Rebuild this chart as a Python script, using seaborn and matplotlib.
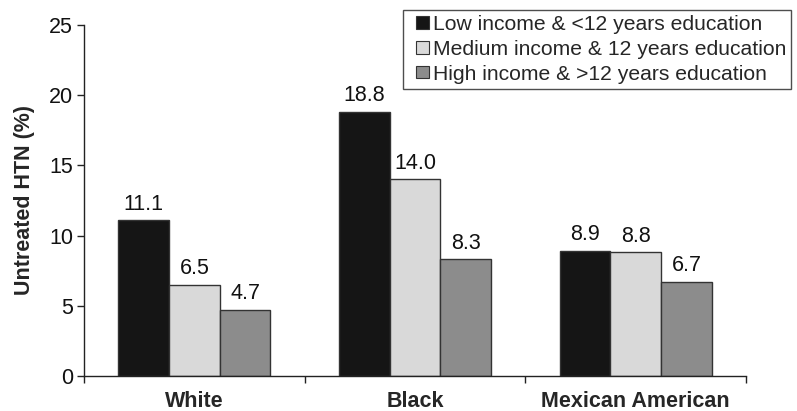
import matplotlib
matplotlib.use("Agg")
import matplotlib.pyplot as plt
import seaborn as sns
import pandas as pd
from matplotlib.patches import Patch, Rectangle
from matplotlib.legend_handler import HandlerPatch
from matplotlib.ticker import FixedLocator, NullFormatter

groups = ["White", "Black", "Mexican American"]
series = [
    "Low income & <12 years education",
    "Medium income & 12 years education",
    "High income & >12 years education",
]
low_vals = [11.1, 18.8, 8.9]
med_vals = [6.5, 14.0, 8.8]
high_vals = [4.7, 8.3, 6.7]
colors = ["#151515", "#d9d9d9", "#8c8c8c"]

rows = []
for s, vals in zip(series, [low_vals, med_vals, high_vals]):
    for g, v in zip(groups, vals):
        rows.append({"group": g, "series": s, "value": v})
df = pd.DataFrame(rows)

sns.set_theme(style="ticks")
plt.rcParams["font.family"] = ["Liberation Sans", "DejaVu Sans"]

FS = 15.5
LEG_FS = 15.2


class SquareHandler(HandlerPatch):
    """Small square swatch sitting at the right end of the handle box."""

    def create_artists(self, legend, orig_handle, xdescent, ydescent,
                       width, height, fontsize, trans):
        side = 0.6 * fontsize
        x0 = width - side - xdescent
        y0 = (height - side) / 2 - ydescent
        r = Rectangle((x0, y0), side, side,
                      facecolor=orig_handle.get_facecolor(),
                      edgecolor=orig_handle.get_edgecolor(),
                      linewidth=orig_handle.get_linewidth())
        r.set_transform(trans)
        return [r]


fig = plt.figure(figsize=(7.97, 4.11), dpi=100)
ax = fig.add_axes([0.1054, 0.0852, 0.8306, 0.854])

sns.barplot(data=df, x="group", y="value", hue="series", order=groups,
            hue_order=series, palette=colors, width=0.69, ax=ax,
            edgecolor="#333333", linewidth=1.0, saturation=1, legend=False)

for container in ax.containers:
    ax.bar_label(container, fmt="%.1f", padding=4, fontsize=FS, color="#111111")

ax.set_ylim(0, 25)
ax.set_xlim(-0.5, len(groups) - 0.5)
ax.set_yticks([0, 5, 10, 15, 20, 25])
ax.tick_params(axis="y", labelsize=FS, length=5, width=1, pad=3,
               color="#222222", labelcolor="#111111")
ax.tick_params(axis="x", which="major", length=0, labelsize=FS, pad=11)
ax.xaxis.set_minor_locator(FixedLocator([-0.5, 0.5, 1.5, 2.5]))
ax.xaxis.set_minor_formatter(NullFormatter())
ax.tick_params(axis="x", which="minor", length=5, width=1, color="#222222")
for lbl in ax.get_xticklabels():
    lbl.set_fontweight("bold")
ax.set_xlabel("")
ax.set_ylabel("Untreated HTN (%)", fontsize=FS, fontweight="bold", labelpad=10)
for side in ["top", "right"]:
    ax.spines[side].set_visible(False)
for side in ["left", "bottom"]:
    ax.spines[side].set_color("#222222")
    ax.spines[side].set_linewidth(1.0)

handles = [Patch(facecolor=c, edgecolor="#333333", linewidth=0.8) for c in colors]
leg = fig.legend(handles, series, loc="upper left", bbox_to_anchor=(0.506, 0.976),
                 frameon=True, fancybox=False, fontsize=LEG_FS, handlelength=0.95,
                 handleheight=0.6, handletextpad=0.2, labelspacing=0.27,
                 borderpad=0.25, borderaxespad=0,
                 handler_map={Patch: SquareHandler()})
leg.get_frame().set_edgecolor("#222222")
leg.get_frame().set_linewidth(1.0)

fig.savefig("out.png", dpi=100)
